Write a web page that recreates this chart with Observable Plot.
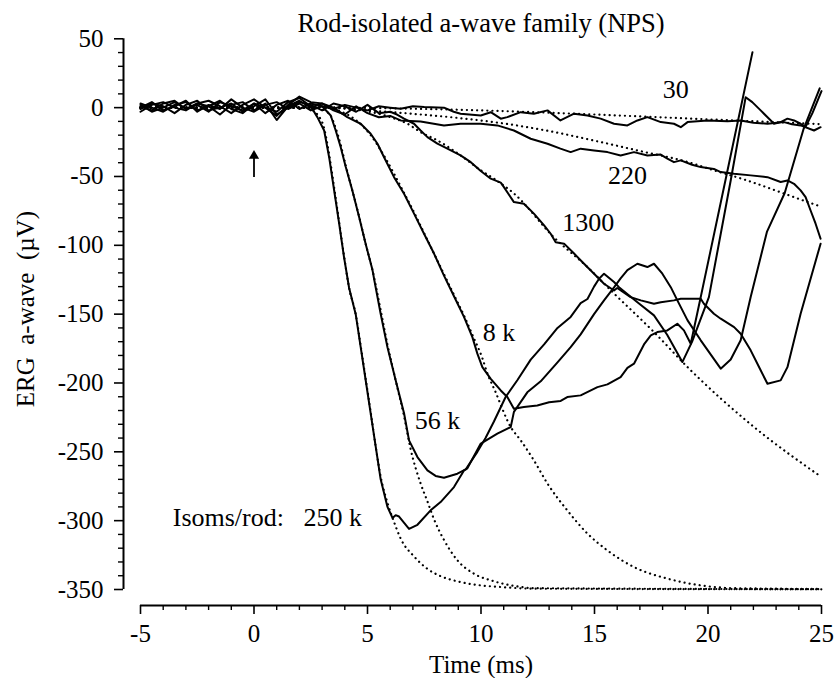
<!DOCTYPE html>
<html>
<head>
<meta charset="utf-8">
<script src="https://cdn.jsdelivr.net/npm/d3@7"></script>
<script src="https://cdn.jsdelivr.net/npm/@observablehq/plot@0.6"></script>
<style>
  html, body { margin: 0; padding: 0; background: #fff; }
  #chart { width: 834px; height: 678px; }
  #chart svg text { white-space: pre; }
</style>
</head>
<body>
<div id="chart"></div>
<script>
// ---------- Axis settings ----------
const xDomain = [-5, 25];
const yDomain = [-350, 50];
const xMajorTicks = [-5, 0, 5, 10, 15, 20, 25];
const xMinorTicks = [-4, -3, -2, -1, 1, 2, 3, 4, 6, 7, 8, 9, 11, 12, 13, 14, 16, 17, 18, 19, 21, 22, 23, 24];
const yMajorTicks = [-350, -300, -250, -200, -150, -100, -50, 0, 50];
const yMinorTicks = [-340, -330, -320, -310, -290, -280, -270, -260, -240, -230, -220, -210, -190, -180, -170, -160,
  -140, -130, -120, -110, -90, -80, -70, -60, -40, -30, -20, -10, 10, 20, 30, 40];

const titleText = "Rod-isolated a-wave family (NPS)";
const xLabelText = "Time (ms)";
const yLabelText = "ERG  a-wave  (\u00b5V)";

// ---------- Pre-flash baseline (time, ms) ----------
const baseT = [-5, -4.5, -4, -3.5, -3, -2.5, -2, -1.5, -1, -0.5, 0, 0.5, 1, 1.5, 2, 2.5];
const base250k = [-3, 2, 4, 0, -2, 3, 5, 1, -4, 2, 6, 0, -3, 4, 7, 1];
const base56k  = [1, -2, 3, 5, -1, 2, -3, 4, 1, -2, 3, -4, 2, 5, -1, 3];
const base8k   = [3, 0, -3, 2, 4, -2, 1, 5, -1, -4, 3, 0, -6, 2, 8, 4];
const base1300 = [-1, 3, 1, -4, 2, 5, -2, 0, 3, -3, 1, 6, -5, 0, 4, 2];
const base220  = [2, -3, 0, 4, -1, 3, 1, -5, 2, 4, -2, 3, -9, 1, 5, 0];
const base30   = [0, 4, -2, 1, 5, -3, 2, -1, 6, 0, -3, 2, 4, -1, 3, -2];

// ---------- Recorded responses after the flash: [time ms, µV] ----------
const wave250k = [[2.79,-6.9],[3.09,-16.6],[3.31,-36],[3.53,-60],[3.75,-84],[3.96,-108],[4.19,-131],[4.48,-150],
  [4.7,-174],[4.92,-198],[5.14,-222],[5.36,-246],[5.58,-270],[5.88,-290],[6.1,-298],[6.24,-296],[6.39,-297],
  [6.83,-306],[7.2,-303],[7.78,-292.5],[8.22,-286.5],[8.81,-275.6],[9.25,-263.5],[9.4,-262],[9.99,-244],
  [10.72,-236.8],[11.31,-232],[11.45,-221],[12.04,-206.8],[12.63,-198.8],[13.37,-185],[13.95,-174],[14.39,-164.7],
  [14.98,-150],[15.42,-140],[15.86,-130.6],[16.15,-124],[16.45,-118],[16.89,-113.4],[17.33,-115.8],[17.62,-113.4],
  [17.99,-120.6],[18.36,-130.4],[18.65,-140],[19.1,-154.5],[19.68,-169],[20.56,-189.6],[21.0,-183],[21.44,-169],
  [21.88,-137.6],[22.6,-90],[23.38,-62],[24.2,-16],[24.92,14]];
const wave56k = [[3.0,1],[3.38,-5.7],[3.6,-16.6],[3.82,-28.7],[4.04,-43],[4.33,-60],[4.63,-79.5],[4.92,-99],
  [5.22,-118],[5.32,-127],[5.58,-149.7],[5.88,-174],[6.24,-198],[6.61,-222],[6.83,-241.7],[7.2,-253.8],
  [7.64,-263.5],[8.0,-267.5],[8.37,-268.8],[8.96,-265.9],[9.33,-262.7],[9.84,-250],[10.2,-240],[10.57,-228],
  [11.09,-210],[11.6,-198],[12.19,-183],[12.78,-172],[13.37,-160],[13.95,-152],[14.39,-142],[14.69,-139],
  [14.98,-130],[15.2,-124.3],[15.42,-120.6],[15.86,-126.7],[16.08,-130.4],[16.89,-141.3],[17.62,-150.9],
  [18.2,-165],[18.87,-184.8],[19.3,-170],[20.04,-137.6],[21.0,-52.9],[21.66,7.6],[21.95,4],[22.32,-2],
  [22.91,-11.7],[23.2,-10.5],[23.5,-8],[23.79,-9.3],[24.08,-11.7],[24.3,-14],[24.6,-4],[25,12]];
const wave8k = [[3.0,3],[3.5,0],[4.11,-6.9],[4.7,-11.7],[5.14,-19],[5.44,-26.2],[5.73,-36],[6.17,-50.5],
  [6.61,-62.5],[7.05,-77],[7.49,-91.6],[7.93,-106],[8.37,-122],[8.81,-137],[9.25,-152],[9.62,-166.7],
  [9.84,-178.7],[10.06,-188.5],[10.43,-197],[10.87,-205.4],[11.16,-210.2],[11.45,-218.7],[11.89,-217.5],
  [12.48,-216.3],[13.0,-214],[13.51,-213],[13.8,-210.2],[14.39,-209],[15.13,-203],[15.57,-201],[16.15,-195.7],
  [16.45,-189],[16.74,-186],[17.18,-172],[17.48,-165.4],[17.77,-163],[18.21,-161.8],[18.65,-157],
  [18.94,-161.8],[19.24,-171.5],[19.68,-137.6],[20.82,-48.7],[21.96,40.3]];
const wave1300 = [[3.0,-2],[3.5,3],[4.0,1],[4.5,-3],[5.0,2],[5.5,-4],[6.0,-3],[6.3,-5],[6.61,-8],[7.05,-11.7],
  [7.34,-16.6],[7.64,-21.4],[8.08,-26.2],[8.52,-29.8],[9.1,-34.7],[9.55,-39.6],[9.99,-46],[10.43,-51.6],
  [10.87,-54.5],[11.01,-57.7],[11.45,-68.6],[11.89,-69.8],[12.33,-77],[12.78,-85.5],[13.07,-91.6],[13.29,-97.7],
  [13.66,-98.8],[14.1,-106],[14.54,-113.4],[14.98,-120.6],[15.42,-127.9],[15.86,-132.8],[16.0,-131],
  [16.59,-137.6],[17.04,-140],[17.62,-142.4],[17.92,-141.3],[18.5,-140],[18.8,-138.8],[19.24,-138.8],
  [19.68,-138.8],[19.82,-142.4],[20.26,-149.7],[20.56,-153.3],[21.15,-159.4],[21.44,-164.2],[21.88,-176.3],
  [22.32,-190.8],[22.62,-200.5],[23.2,-198.1],[23.5,-188.5],[24.08,-149.7],[24.96,-98.8]];
const wave220 = [[3.0,3],[3.5,-2],[4.0,-5],[4.5,1],[5.0,-4],[5.5,-7],[6.0,-6],[6.46,-9.3],[7.34,-10],[8.37,-13],
  [9.1,-11.7],[9.99,-11.7],[10.72,-12.9],[11.45,-16.6],[12.19,-22.6],[12.93,-26.2],[13.5,-29.8],[13.95,-32.3],
  [14.39,-29.8],[14.98,-31.1],[15.57,-32.3],[16.15,-34.7],[16.74,-32.3],[17.33,-34.7],[17.9,-34],[18.21,-37],
  [18.5,-39.6],[18.8,-38.3],[19.3,-41.5],[19.68,-43.2],[20.26,-44.5],[20.56,-46.8],[21.15,-48],[21.88,-49.2],
  [22.62,-50.5],[23.2,-54],[23.5,-52.9],[23.79,-55.3],[24.08,-60.1],[24.3,-65],[24.52,-74.7],[24.74,-84.3],
  [24.96,-95.2]];
const wave30 = [[3.0,1],[3.5,-1],[4.0,2],[4.5,0],[5.0,-2],[5.5,1],[6.0,0],[6.46,-0.8],[7.0,1],[7.5,0.5],
  [8.37,0],[8.8,-3],[9.1,-4.4],[9.99,-5.7],[10.43,-3.3],[10.87,-8],[11.16,-6.9],[11.75,-3.3],[12.33,-4.4],
  [12.93,-2],[13.5,-9.3],[14.1,-4.4],[14.69,-5.7],[15.27,-8],[15.86,-11.7],[16.45,-12.9],[16.89,-9.3],
  [17.33,-6.9],[17.92,-10.5],[18.5,-11.7],[18.8,-14.2],[19.1,-10.5],[19.97,-9.3],[20.86,-9.8],[21.44,-9.3],
  [22.0,-11],[22.62,-11.7],[23.35,-10.5],[23.7,-12],[24.08,-12.9],[24.67,-16.6],[24.96,-14.2]];

// ---------- Model fits (dotted): [time ms, µV] ----------
const fit250k = [[-5,0],[2.3,0],[2.6,-2],[2.79,-5],[3.09,-15],[3.31,-34],[3.53,-58],[3.75,-83],[3.96,-107],
  [4.19,-131],[4.48,-150],[4.7,-173],[4.92,-197],[5.14,-221],[5.36,-246],[5.58,-268],[5.88,-287],[6.17,-301],
  [6.46,-313],[7.05,-326],[7.64,-335],[8.22,-340.3],[9.1,-344.6],[9.99,-347],[10.87,-348.2],[12.33,-349.4],[25,-349.9]];
const fit56k = [[-5,0],[2.8,0],[3.1,-2],[3.38,-6],[3.6,-15],[3.82,-27],[4.04,-42],[4.33,-60],[4.63,-79],
  [4.92,-99],[5.22,-118],[5.58,-147],[5.88,-172],[6.24,-198],[6.61,-224],[6.9,-248],[7.34,-273],[7.64,-286],
  [7.93,-299],[8.37,-314],[8.96,-328.8],[9.69,-338.5],[10.57,-344],[11.5,-347.5],[12.33,-349],[25,-349.8]];
const fit8k = [[-5,0],[3.2,0],[3.7,-2],[4.11,-5],[4.7,-12],[5.14,-20],[5.73,-35],[6.17,-48],[6.61,-62],
  [7.05,-76],[7.49,-91],[7.93,-106],[8.37,-121],[8.81,-136],[9.25,-151],[9.62,-165],[10.06,-182],[10.28,-193],
  [10.6,-205],[11.31,-232],[11.75,-241.7],[12.33,-256.2],[12.93,-273.1],[13.8,-292.5],[14.69,-309.4],
  [15.57,-321.6],[16.74,-333.7],[18.21,-342.1],[19.68,-347],[21.15,-349],[25,-349.6]];
const fit1300 = [[-5,0],[3.5,0],[4.5,-1.5],[5.5,-4.5],[6.2,-8],[6.76,-11.7],[7.34,-17.8],[8.08,-23.8],
  [8.67,-29.8],[9.4,-38.3],[10,-45.6],[10.57,-51.6],[11.46,-62.5],[13.2,-94],[14.69,-115.8],[15.86,-135],
  [17.62,-163],[19.1,-188.5],[22.03,-232],[25,-268.3]];
const fit220 = [[-5,0],[3,0],[5,-2],[7,-4.5],[9,-7.5],[11,-11.5],[13,-17],[15,-24],[17,-31.5],[19,-39],
  [20.26,-45.5],[21.74,-53],[23.2,-61.5],[24.38,-68.5],[25,-72]];
const fit30 = [[-5,0],[3,0],[6,-0.5],[10,-2],[15,-5],[20,-8.5],[25,-12]];

// ---------- Annotations ----------
const labels = [
  {text: "30", t: 18.58, v: 13.4, anchor: "middle"},
  {text: "220", t: 16.45, v: -49.5, anchor: "middle"},
  {text: "1300", t: 14.72, v: -83.4, anchor: "middle"},
  {text: "8 k", t: 10.79, v: -163.3, anchor: "middle"},
  {text: "56 k", t: 8.08, v: -227.4, anchor: "middle"},
  {text: "Isoms/rod:   250 k", t: -3.58, v: -297.8, anchor: "start"}
];
const stimulusArrow = [{t: 0, from: -50.7, to: -35}];

// ---------- Build tables ----------
const solidSeries = [
  {name: "250 k", base: base250k, wave: wave250k},
  {name: "56 k", base: base56k, wave: wave56k},
  {name: "8 k", base: base8k, wave: wave8k},
  {name: "1300", base: base1300, wave: wave1300},
  {name: "220", base: base220, wave: wave220},
  {name: "30", base: base30, wave: wave30}
];
const fitSeries = [
  {name: "250 k", pts: fit250k}, {name: "56 k", pts: fit56k}, {name: "8 k", pts: fit8k},
  {name: "1300", pts: fit1300}, {name: "220", pts: fit220}, {name: "30", pts: fit30}
];
const solidRows = solidSeries.flatMap(s => [
  ...baseT.map((t, i) => ({series: s.name, t, v: s.base[i]})),
  ...s.wave.map(([t, v]) => ({series: s.name, t, v}))
]);
const fitRows = fitSeries.flatMap(s => s.pts.map(([t, v]) => ({series: s.name, t, v})));

const fmt = d => String(d);
const serif = "'Liberation Serif', 'Times New Roman', serif";

const chart = Plot.plot({
  width: 834,
  height: 678,
  marginLeft: 140,
  marginRight: 13,
  marginTop: 38.3,
  marginBottom: 89,
  style: {fontFamily: serif, fontSize: "25px", color: "black", background: "white", overflow: "visible"},
  x: {domain: xDomain},
  y: {domain: yDomain},
  marks: [
    // y axis (offset to the left)
    Plot.ruleX([xDomain[0]], {y1: yDomain[0], y2: yDomain[1], dx: -17, strokeWidth: 2}),
    Plot.axisY(yMajorTicks, {anchor: "left", dx: -17, tickSize: 9, tickPadding: 11, strokeWidth: 1.6, tickFormat: fmt, label: null}),
    Plot.axisY(yMinorTicks, {anchor: "left", dx: -17, tickSize: 5, strokeWidth: 1.4, tickFormat: () => "", label: null}),
    // x axis (offset below)
    Plot.ruleY([yDomain[0]], {x1: xDomain[0], x2: xDomain[1], dy: 16, strokeWidth: 2}),
    Plot.axisX(xMajorTicks, {anchor: "bottom", dy: 16, tickSize: 9, tickPadding: 10, strokeWidth: 1.6, tickFormat: fmt, label: null}),
    Plot.axisX(xMinorTicks, {anchor: "bottom", dy: 16, tickSize: 5, strokeWidth: 1.4, tickFormat: () => "", label: null}),
    // titles
    Plot.text([titleText], {frameAnchor: "top", dy: -15, textAnchor: "middle", lineAnchor: "middle", fontSize: 26.5}),
    Plot.text([xLabelText], {frameAnchor: "bottom", dy: 75, textAnchor: "middle", lineAnchor: "middle", fontSize: 25}),
    Plot.text([yLabelText], {frameAnchor: "left", dx: -115, dy: -5, rotate: -90, textAnchor: "middle", lineAnchor: "middle", fontSize: 25}),
    // model fits (dotted)
    Plot.line(fitRows, {x: "t", y: "v", z: "series", stroke: "black", strokeWidth: 2.2,
      strokeDasharray: "0.1 5", strokeLinecap: "round", curve: "monotone-x"}),
    // recorded responses
    Plot.line(solidRows, {x: "t", y: "v", z: "series", stroke: "black", strokeWidth: 2, strokeLinejoin: "round"}),
    // stimulus arrow
    Plot.ruleX(stimulusArrow, {x: "t", y1: "from", y2: "to", strokeWidth: 1.8}),
    Plot.dot(stimulusArrow, {x: "t", y: "to", symbol: "triangle", r: 3.8, fill: "black", stroke: null}),
    // annotations
    Plot.text(labels.filter(d => d.anchor === "middle"), {x: "t", y: "v", text: "text", textAnchor: "middle", lineAnchor: "middle", fontSize: 26}),
    Plot.text(labels.filter(d => d.anchor === "start"), {x: "t", y: "v", text: "text", textAnchor: "start", lineAnchor: "middle", fontSize: 26})
  ]
});
document.getElementById("chart").appendChild(chart);
</script>
</body>
</html>
